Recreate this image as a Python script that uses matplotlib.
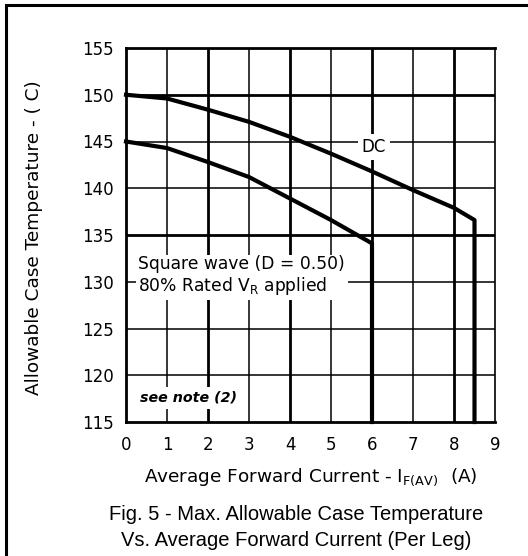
import numpy as np
import matplotlib.pyplot as plt
from matplotlib.patches import Rectangle

# curve data
dc_x = [0, 1, 2, 3, 4, 5, 6, 7, 8, 8.5]
dc_y = [150.0, 149.6, 148.4, 147.1, 145.5, 143.7, 141.8, 139.8, 137.9, 136.6]
sq_x = [0, 1, 2, 3, 4, 5, 6]
sq_y = [145.0, 144.3, 142.8, 141.2, 138.9, 136.6, 134.1]

x_ticks = list(range(0, 10))
y_ticks = list(range(115, 160, 5))
thick_x = [2, 4, 6, 8]
thick_y = [150, 135]

fig = plt.figure(figsize=(5.28, 5.56), dpi=100)
# outer frame (only left/top visible in the reference)
fig.patches.append(Rectangle((6/528, -0.1), 1.2, (556-5)/556 + 0.1, transform=fig.transFigure,
                             fill=False, edgecolor='black', linewidth=2.2))

ax = fig.add_axes([126/528, 1-422/556, (495-126)/528, (422-48)/556])
ax.set_xlim(0, 9)
ax.set_ylim(115, 155)

# grid
for xv in x_ticks[1:-1]:
    ax.axvline(xv, color='black', lw=2.0 if xv in thick_x else 1.1, zorder=1)
for yv in y_ticks[1:-1]:
    ax.axhline(yv, color='black', lw=2.0 if yv in thick_y else 1.1, zorder=1)

# curves with vertical drops
ax.plot(dc_x + [dc_x[-1]], dc_y + [115], color='black', lw=3.0, zorder=4, clip_on=False)
ax.plot(sq_x + [sq_x[-1]], sq_y + [115], color='black', lw=3.0, zorder=4, clip_on=False)

for s in ['left', 'bottom', 'top']:
    ax.spines[s].set_linewidth(2.0)
ax.spines['right'].set_linewidth(1.2)

ax.set_xticks(x_ticks)
ax.set_yticks(y_ticks)
ax.tick_params(length=0, labelsize=12, pad=9)
ax.tick_params(axis='x', pad=10)

box = dict(facecolor='white', edgecolor='none', pad=3)
ax.text(6.05, 144.4, 'DC', fontsize=12, ha='center', va='center', bbox=box, zorder=3)
ax.text(0.3, 130.6, 'Square wave (D = 0.50)\n80% Rated V$_{\\rm R}$ applied', fontsize=12.3,
        ha='left', va='center', linespacing=1.1, bbox=dict(facecolor='white', edgecolor='none', pad=2), zorder=3)
ax.text(0.35, 117.6, 'see note (2)', fontsize=10.3, fontweight='bold', style='italic',
        ha='left', va='center', bbox=box, zorder=3)

fig.text(311/528, 1-477/556, 'Average Forward Current - I$_{\\rm F(AV)}$  (A)', fontsize=13.3,
         ha='center', va='center')
fig.text(34/528, 1-238/556, 'Allowable Case Temperature - ( C)', fontsize=13.3, rotation=90,
         ha='center', va='center')
fig.text(296/528, 1-515/556, 'Fig. 5 - Max. Allowable Case Temperature', fontsize=14.5,
         family='Liberation Sans', ha='center', va='center')
fig.text(296/528, 1-541/556, 'Vs. Average Forward Current (Per Leg)', fontsize=14.5,
         family='Liberation Sans', ha='center', va='center')

fig.savefig('out.png', dpi=100)
